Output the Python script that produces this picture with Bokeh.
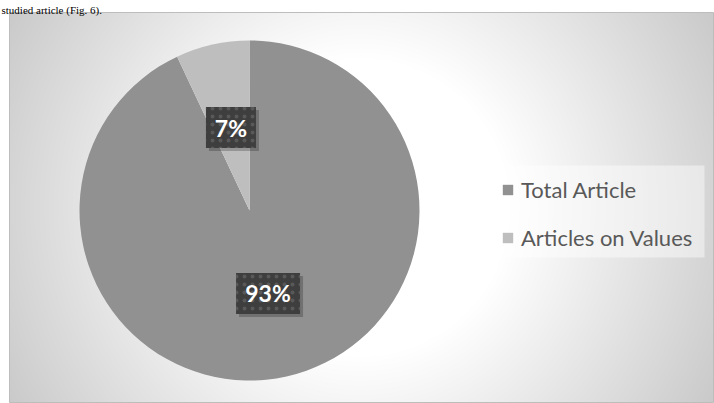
import numpy as np
from bokeh.plotting import figure
from bokeh.models import Range1d, Legend, LegendItem
from bokeh.core.properties import value
from bokeh.embed import file_html
from bokeh.resources import INLINE

# ---- data ----
categories = ["Total Article", "Articles on Values"]
values = [93, 7]
slice_colors = ["#919191", "#bebebe"]
caption = "studied article (Fig. 6)."

W, H = 714, 403

p = figure(width=W, height=H, output_backend="svg", toolbar_location=None,
           x_range=Range1d(0, W), y_range=Range1d(0, H), min_border=0)
p.axis.visible = False
p.grid.visible = False
p.outline_line_color = None
p.background_fill_color = "white"
p.border_fill_color = "white"

# ---- chart area with radial gradient background ----
cx0, cy0, cw, ch = 9, 12, 704, 390  # screen coords of chart area
xs = np.arange(cw) + cx0 + 0.5
ys = np.arange(ch) + cy0 + 0.5
XX, YY = np.meshgrid(xs, ys)
d = np.hypot(XX - 360, YY - 207)
g = np.clip(255 - np.clip(d - 150, 0, None) * 0.21, 190, 255).astype(np.uint32)
img = (255 << 24) | (g << 16) | (g << 8) | g
img = img[::-1, :]  # row 0 at the bottom
p.image_rgba(image=[img.view(np.uint32)], x=cx0, y=H - (cy0 + ch), dw=cw, dh=ch)
p.rect(x=cx0 + cw / 2, y=H - (cy0 + ch / 2), width=cw, height=ch,
       fill_color=None, line_color="#bdbdbd", line_width=1)

# ---- pie ----
pcx, pcy, R = 249, H - 210, 170
total = float(sum(values))
fr = np.array(values) / total
cum = np.concatenate([[0], np.cumsum(fr)])
start = np.pi / 2 - cum[1:] * 2 * np.pi
end = np.pi / 2 - cum[:-1] * 2 * np.pi
renderers = []
for i in range(len(values)):
    r = p.wedge(x=pcx, y=pcy, radius=R, start_angle=start[i], end_angle=end[i],
                fill_color=slice_colors[i], line_color=None)
    renderers.append(r)

# ---- data labels ----
mid = (start + end) / 2
lx = pcx + 0.5 * R * np.cos(mid)
ly = pcy + 0.5 * R * np.sin(mid)
labels = [f"{round(v * 100)}%" for v in fr]
bw = [22 + 14 * len(t) for t in labels]
p.rect(x=lx + 3, y=ly - 3, width=bw, height=41, width_units="screen", height_units="screen",
       fill_color="black", fill_alpha=0.22, line_color=None)
p.rect(x=lx, y=ly, width=bw, height=41, width_units="screen", height_units="screen",
       fill_color="#3e3e3e", line_color=None,
       hatch_pattern="dot", hatch_color="#585858", hatch_scale=8, hatch_weight=2)
p.text(x=lx, y=ly, text=labels, text_color="white", text_font=value("Lato"),
       text_font_style="bold", text_font_size="23px", text_align="center",
       text_baseline="middle")

# ---- caption above the chart area ----
p.text(x=[1], y=[H - 9], text=[caption], text_font=value("Liberation Serif"),
       text_font_size="11px", text_color="black", text_baseline="alphabetic")

# ---- legend box + legend ----
p.rect(x=(488 + 704) / 2, y=H - (165 + 257) / 2, width=216, height=92,
       fill_color="white", fill_alpha=0.45, line_color=None)
legend = Legend(items=[LegendItem(label=c, renderers=[r]) for c, r in zip(categories, renderers)],
                location=(501, H - 251), orientation="vertical",
                background_fill_alpha=0, border_line_color=None, label_text_font="Lato",
                label_text_font_size="22px", label_text_color="#595959",
                glyph_width=13, glyph_height=13, label_height=28, spacing=20,
                padding=0, margin=0, label_standoff=7)
p.add_layout(legend)

open("out.html", "w").write(file_html(p, INLINE))
